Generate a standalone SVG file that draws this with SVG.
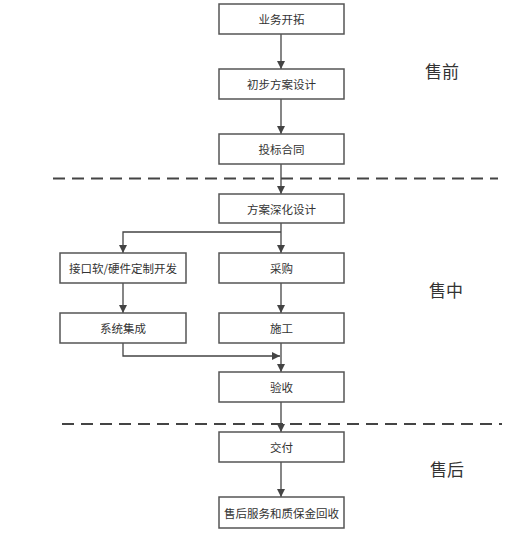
<svg xmlns="http://www.w3.org/2000/svg" width="522" height="537" viewBox="0 0 522 537">
<defs>
<style>
.box rect{fill:#fff;stroke:#555;stroke-width:1.5}
.box text{font-family:"Noto Sans CJK SC",sans-serif;font-size:11.5px;fill:#333;text-anchor:middle;dominant-baseline:central}
.phase{font-family:"Noto Sans CJK SC",sans-serif;font-size:17px;fill:#333;text-anchor:middle;dominant-baseline:central}
.conn{fill:none;stroke:#444;stroke-width:1.3}
.dash{stroke:#444;stroke-width:2;stroke-dasharray:12 7;fill:none}
</style>
<marker id="arr" viewBox="0 0 10 10" refX="10" refY="5" markerWidth="8" markerHeight="8" markerUnits="userSpaceOnUse" orient="auto">
<path d="M0,0 L10,5 L0,10 z" fill="#444"/>
</marker>
</defs>
<rect width="522" height="537" fill="#fff"/>
<g id="dividers">
<line class="dash" x1="53" y1="178.5" x2="498" y2="178.5"/>
<line class="dash" x1="62" y1="424" x2="502" y2="424"/>
</g>
<g id="connectors">
<line class="conn" x1="281" y1="34" x2="281" y2="69" marker-end="url(#arr)"/>
<line class="conn" x1="281" y1="99" x2="281" y2="134" marker-end="url(#arr)"/>
<line class="conn" x1="281" y1="164" x2="281" y2="194" marker-end="url(#arr)"/>
<line class="conn" x1="281" y1="223" x2="281" y2="253" marker-end="url(#arr)"/>
<polyline class="conn" points="281,232 123,232 123,253" marker-end="url(#arr)"/>
<line class="conn" x1="123" y1="283" x2="123" y2="313" marker-end="url(#arr)"/>
<line class="conn" x1="281" y1="283" x2="281" y2="313" marker-end="url(#arr)"/>
<polyline class="conn" points="123,343 123,356 280,356" marker-end="url(#arr)"/>
<line class="conn" x1="281" y1="343" x2="281" y2="372" marker-end="url(#arr)"/>
<line class="conn" x1="281" y1="402" x2="281" y2="432" marker-end="url(#arr)"/>
<line class="conn" x1="281" y1="462" x2="281" y2="497" marker-end="url(#arr)"/>
</g>
<g id="n1" class="box"><rect x="219" y="4" width="125" height="30"/><text x="281.5" y="19">业务开拓</text></g>
<g id="n2" class="box"><rect x="219" y="69" width="125" height="30"/><text x="281.5" y="84">初步方案设计</text></g>
<g id="n3" class="box"><rect x="219" y="134" width="125" height="30"/><text x="281.5" y="149">投标合同</text></g>
<g id="n4" class="box"><rect x="219" y="194" width="125" height="29"/><text x="281.5" y="208.5">方案深化设计</text></g>
<g id="n5" class="box"><rect x="60" y="253" width="126" height="30"/><text x="123" y="268">接口软/硬件定制开发</text></g>
<g id="n6" class="box"><rect x="219" y="253" width="125" height="30"/><text x="281.5" y="268">采购</text></g>
<g id="n7" class="box"><rect x="60" y="313" width="126" height="30"/><text x="123" y="328">系统集成</text></g>
<g id="n8" class="box"><rect x="219" y="313" width="125" height="30"/><text x="281.5" y="328">施工</text></g>
<g id="n9" class="box"><rect x="219" y="372" width="125" height="30"/><text x="281.5" y="387">验收</text></g>
<g id="n10" class="box"><rect x="219" y="432" width="125" height="30"/><text x="281.5" y="447">交付</text></g>
<g id="n11" class="box"><rect x="219" y="497" width="125" height="31"/><text x="281.5" y="512.5">售后服务和质保金回收</text></g>
<g id="phases">
<text class="phase" x="442" y="70">售前</text>
<text class="phase" x="446" y="289">售中</text>
<text class="phase" x="447" y="468">售后</text>
</g>
</svg>
